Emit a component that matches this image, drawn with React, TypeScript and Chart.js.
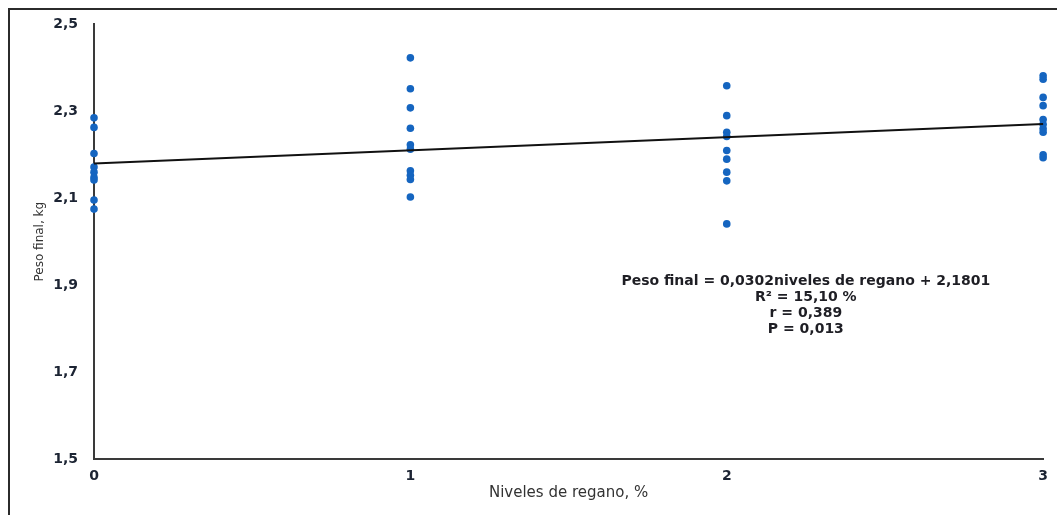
import React, { useEffect, useRef } from "react";
import { Chart, registerables } from "chart.js";

Chart.register(...registerables);

// ---- data ----
const xLevels = [0, 1, 2, 3];
const weightsAt0 = [2.285, 2.263, 2.203, 2.172, 2.16, 2.148, 2.142, 2.096, 2.075];
const weightsAt1 = [2.423, 2.352, 2.308, 2.261, 2.223, 2.213, 2.163, 2.153, 2.143, 2.103];
const weightsAt2 = [2.359, 2.29, 2.252, 2.242, 2.21, 2.19, 2.16, 2.14, 2.041];
const weightsAt3 = [2.382, 2.374, 2.332, 2.313, 2.281, 2.27, 2.26, 2.252, 2.2, 2.193];
const trendX = [0, 3];
const trendY = [2.1801, 2.2707];
const yTickValues = [1.5, 1.7, 1.9, 2.1, 2.3, 2.5];
const annotationLines = [
  "Peso final = 0,0302niveles de regano + 2,1801",
  "R² = 15,10 %",
  "r = 0,389",
  "P = 0,013",
];
const xTitle = "Niveles de regano, %";
const yTitle = "Peso final, kg";

const groups = [weightsAt0, weightsAt1, weightsAt2, weightsAt3];

const annotationPlugin = {
  id: "eqAnnotation",
  afterDraw(chart: any) {
    const { ctx, scales } = chart;
    const cx = scales.x.getPixelForValue(2.25);
    const y0 = scales.y.getPixelForValue(1.908);
    ctx.save();
    ctx.font = "bold 14px 'DejaVu Sans'";
    ctx.fillStyle = "#1e1e24";
    ctx.textAlign = "center";
    ctx.textBaseline = "middle";
    annotationLines.forEach((t, i) => {
      ctx.fillText(t, cx, y0 + i * 16);
    });
    ctx.restore();
  },
};

export default function App() {
  const ref = useRef<HTMLCanvasElement | null>(null);

  useEffect(() => {
    if (!ref.current) return;
    const points: { x: number; y: number }[] = [];
    groups.forEach((arr, gi) => {
      arr.forEach((v) => points.push({ x: xLevels[gi], y: v }));
    });
    const trend = trendX.map((x, i) => ({ x, y: trendY[i] }));

    const chart = new Chart(ref.current, {
      type: "scatter",
      data: {
        datasets: [
          {
            type: "line",
            data: trend,
            borderColor: "#111111",
            borderWidth: 2,
            pointRadius: 0,
            fill: false,
            order: 0,
            clip: false,
          } as any,
          {
            type: "scatter",
            data: points,
            backgroundColor: "#1565c0",
            borderColor: "#1565c0",
            borderWidth: 0,
            pointRadius: 3.8,
            pointHoverRadius: 3.8,
            order: 1,
            clip: false,
          } as any,
        ],
      },
      options: {
        animation: false,
        responsive: false,
        maintainAspectRatio: false,
        layout: { padding: { left: 0, right: 9, top: 15, bottom: 0 } },
        plugins: { legend: { display: false }, tooltip: { enabled: false } },
        scales: {
          x: {
            type: "linear",
            min: 0,
            max: 3,
            grid: { display: false, drawTicks: false, tickLength: 0 },
            border: { display: true, color: "#3a3a3a", width: 2 },
            ticks: {
              stepSize: 1,
              padding: 9,
              color: "#1c2433",
              font: { family: "'DejaVu Sans'", size: 14, weight: "bold" },
            },
            title: {
              display: true,
              text: xTitle,
              color: "#333333",
              font: { family: "'DejaVu Sans'", size: 15 },
              padding: { top: 0, bottom: 13 },
            },
            afterFit(scale: any) {
              scale.height = 56;
            },
          },
          y: {
            type: "linear",
            min: 1.5,
            max: 2.5,
            afterBuildTicks(scale: any) {
              scale.ticks = yTickValues.map((v) => ({ value: v }));
            },
            grid: { display: false, drawTicks: false, tickLength: 0 },
            border: { display: true, color: "#3a3a3a", width: 2 },
            ticks: {
              padding: 16,
              color: "#1c2433",
              font: { family: "'DejaVu Sans'", size: 14, weight: "bold" },
              callback: (v: any) => Number(v).toFixed(1).replace(".", ","),
            },
            title: {
              display: true,
              text: yTitle,
              color: "#333333",
              font: { family: "'DejaVu Sans'", size: 12 },
              padding: { top: 33, bottom: 0 },
            },
            afterFit(scale: any) {
              scale.width = 94;
            },
          },
        },
      },
      plugins: [annotationPlugin],
    });
    return () => chart.destroy();
  }, []);

  return (
    <div style={{ position: "absolute", left: 0, top: 0, width: 1057, height: 515, background: "#ffffff" }}>
      <canvas ref={ref} width={1057} height={515} style={{ display: "block" }} />
      <div
        style={{
          position: "absolute",
          left: 8,
          top: 8,
          width: 1049,
          height: 507,
          borderTop: "2px solid #2b2b2b",
          borderLeft: "2px solid #2b2b2b",
          boxSizing: "border-box",
          pointerEvents: "none",
        }}
      />
    </div>
  );
}
